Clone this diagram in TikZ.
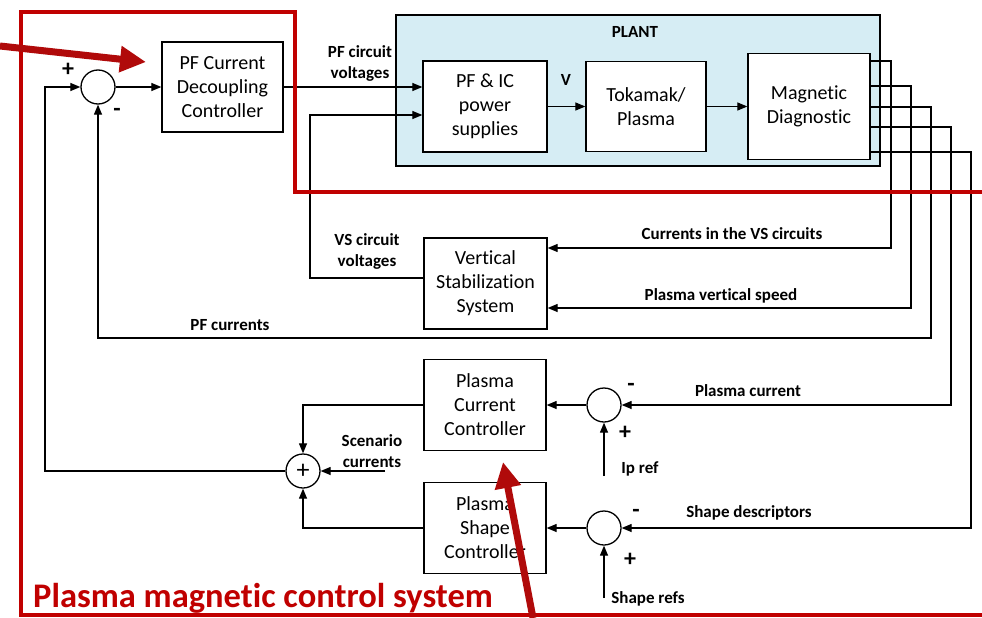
\documentclass[tikz,border=0pt]{standalone}
\usepackage{fontspec}
\setmainfont{Carlito}[Ligatures=NoCommon]
\usetikzlibrary{arrows.meta, positioning, calc}
\definecolor{FrameRed}{HTML}{C00000}
\definecolor{CalloutRed}{HTML}{B00A0A}
\definecolor{PlantBlue}{HTML}{D6EDF4}
\tikzset{
    % Block style
    block/.style={
        rectangle,
        draw=black,
        fill=white,
        line width=1.3pt,
        align=center,
        inner sep=0pt,
        font=\fontsize{20}{24}\selectfont
    },
    % Plant frame style
    plantbox/.style={
        rectangle,
        draw=black,
        fill=PlantBlue,
        line width=1.3pt,
        inner sep=0pt
    },
    % Summing junction
    sumnode/.style={
        circle,
        draw=black,
        fill=white,
        line width=1.3pt,
        minimum size=34pt,
        inner sep=0pt
    },
    % Signal arrow
    sig/.style={
        -{Triangle[length=10pt,width=8pt]},
        line width=1.2pt,
        color=black
    },
    % Signal label
    siglabel/.style={
        align=center,
        inner sep=0pt,
        font=\bfseries\fontsize{17}{21}\selectfont
    },
    % Sign at a junction
    sign/.style={
        inner sep=0pt,
        font=\bfseries\fontsize{24}{24}\selectfont
    },
    % Red frame of the control system
    redframe/.style={
        draw=FrameRed,
        line width=4pt,
        line join=miter
    },
    % Red callout arrow
    callout/.style={
        -{Triangle[length=26pt,width=25pt]},
        draw=CalloutRed,
        line width=7pt
    }
}

\begin{document}
\begin{tikzpicture}[x=1pt, y=-1pt]
    \useasboundingbox (0,0) rectangle (982,618);

    % Plant
    \node (plant) [plantbox, minimum width=484pt, minimum height=151pt] at (638,90.5) {};
    \node [siglabel] at (635,32) {PLANT};
    \node (psu) [block, minimum width=124pt, minimum height=91pt] at (485,106.5) {PF \& IC\\power\\supplies};
    \node (tok) [block, minimum width=120pt, minimum height=90pt] at (646,106.5) {Tokamak/\\Plasma};
    \node (magdiag) [block, minimum width=122pt, minimum height=106pt] at (809,106.5) {Magnetic\\Diagnostic};

    % Controllers
    \node (sumpf) [sumnode] at (98,87) {};
    \node (pfdc) [block, minimum width=121pt, minimum height=90pt] at (222.5,87) {PF Current\\Decoupling\\Controller};
    \node (vss) [block, minimum width=123pt, minimum height=91pt] at (485.5,283.5) {Vertical\\Stabilization\\System};
    \node (pcc) [block, minimum width=122pt, minimum height=91pt] at (485,405) {Plasma\\Current\\Controller};
    \node (psc) [block, minimum width=122pt, minimum height=91pt] at (485,528) {Plasma\\Shape\\Controller};
    \node (sumip) [sumnode] at (604,405) {};
    \node (sumsh) [sumnode] at (604,528) {};
    \node (sumout) [sumnode, font=\fontsize{26}{26}\selectfont] at (303,471) {+};

    % Signs
    \node [sign] at (68,70) {+};
    \node [sign] at (117,112) {-};
    \node [sign] at (631,387) {-};
    \node [sign] at (625,433) {+};
    \node [sign] at (636,513) {-};
    \node [sign] at (630,560) {+};

    % Free ends
    \coordinate (ipref) at (604,476);
    \coordinate (shref) at (604,598);
    \coordinate (scen) at (385,471);

    % Forward path
    \draw [sig] (sumpf.east) -- (pfdc.west);
    \draw [sig] (pfdc.east) -- (psu.west |- pfdc);
    \draw [sig] (psu.east) -- (tok.west);
    \draw [sig] (tok.east) -- (magdiag.west);
    \draw [sig] (vss.west |- 0,278) -| (310,115) -- (psu.west |- 0,115);

    % Feedback from the diagnostic
    \draw [sig] (magdiag.east |- 0,61) -| (891,248) -- (vss.east |- 0,248);
    \draw [sig] (magdiag.east |- 0,86) -| (911,308) -- (vss.east |- 0,308);
    \draw [sig] (magdiag.east |- 0,107) -| (931,338) -| (sumpf.south);
    \draw [sig] (magdiag.east |- 0,127) -| (951,405) -- (sumip.east);
    \draw [sig] (magdiag.east |- 0,152) -| (971,528) -- (sumsh.east);

    % Plasma controllers
    \draw [sig] (sumip.west) -- (pcc.east);
    \draw [sig] (sumsh.west) -- (psc.east);
    \draw [sig] (ipref) -- (sumip.south);
    \draw [sig] (shref) -- (sumsh.south);
    \draw [sig] (pcc.west) -| (sumout.north);
    \draw [sig] (psc.west) -| (sumout.south);
    \draw [sig] (scen) -- (sumout.east);
    \draw [sig] (sumout.west) -| (45,87) -- (sumpf.west);

    % Signal labels
    \node [siglabel] at (360,63) {PF circuit\\voltages};
    \node [siglabel] at (566,80) {V};
    \node [siglabel] at (367,251) {VS circuit\\voltages};
    \node [siglabel] at (732,234) {Currents in the VS circuits};
    \node [siglabel] at (721,296) {Plasma vertical speed};
    \node [siglabel] at (230,325) {PF currents};
    \node [siglabel] at (748,391) {Plasma current};
    \node [siglabel] at (640,469) {Ip ref};
    \node [siglabel] at (372,451) {Scenario\\currents};
    \node [siglabel] at (749,513) {Shape descriptors};
    \node [siglabel] at (648,599) {Shape refs};

    % Control system frame
    \draw [redframe] (982,192) -- (295,192) -- (295,12) -- (21,12) -- (21,615) -- (982,615);
    \node [anchor=base west, inner sep=0pt, text=FrameRed, font=\bfseries\fontsize{34.5}{34.5}\selectfont] at (33,607) {Plasma magnetic control system};

    % Callout arrows
    \coordinate (calloutA) at (0,46);
    \coordinate (calloutB) at (533,618);
    \draw [callout] (calloutA) -- (146,62);
    \draw [callout] (calloutB) -- (503,462);
\end{tikzpicture}
\end{document}
